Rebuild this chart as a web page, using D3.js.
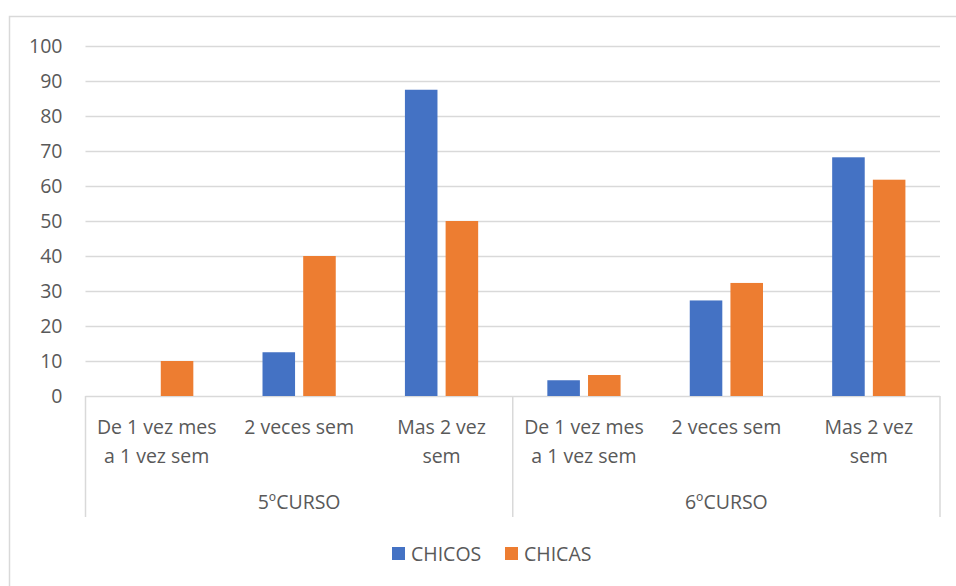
<!DOCTYPE html>
<html>
<head>
<meta charset="utf-8">
<script src="https://cdn.jsdelivr.net/npm/d3@7"></script>
<style>
  body { margin: 0; background: #fff; }
  text { font-family: "Open Sans", "Liberation Sans", sans-serif; fill: #595959; }
</style>
</head>
<body>
<div id="chart"></div>
<script>
// Datos
// =====
var cursos = ["5ºCURSO", "6ºCURSO"];
var frecuencias = [["De 1 vez mes", "a 1 vez sem"], ["2 veces sem"], ["Mas 2 vez", "sem"]];
var series = ["CHICOS", "CHICAS"];
var colores = ["#4472C4", "#ED7D31"];
var chicos = [0, 12.5, 87.5, 4.5, 27.3, 68.2];
var chicas = [10, 40, 50, 6, 32.3, 61.8];
var yTicks = [0, 10, 20, 30, 40, 50, 60, 70, 80, 90, 100];

// Dimensiones
// ===========
var W = 956, H = 586;
var fs = "19.5px";
var margin = { top: 46, right: 16, bottom: 190, left: 85.5 },
  width = 940 - margin.left,
  height = 396 - margin.top;

var svg = d3.select("#chart").append("svg")
  .attr("width", W).attr("height", H);

// borde del grafico
svg.append("path")
  .attr("d", "M9.5," + H + "V16.5H" + W)
  .attr("fill", "none").attr("stroke", "#d9d9d9").attr("stroke-width", 1.5);

var g = svg.append("g")
  .attr("transform", "translate(" + margin.left + "," + margin.top + ")");

// categorias: curso x frecuencia
var cats = [];
cursos.forEach(function(c, i) {
  frecuencias.forEach(function(f, j) {
    cats.push({ key: i + "-" + j, curso: c, label: f, chicos: chicos[i * 3 + j], chicas: chicas[i * 3 + j] });
  });
});

// Eje Y
// =====
var y = d3.scaleLinear().domain([0, 100]).range([height, 0]);

g.append("g")
  .call(d3.axisLeft(y).tickValues(yTicks).tickSize(-width).tickPadding(23))
  .call(function(a) {
    a.select(".domain").remove();
    a.selectAll("line").attr("stroke", "#d9d9d9").attr("stroke-width", 1.5);
    a.selectAll("text").style("font-size", fs).attr("fill", "#595959");
  });

// Eje X
// =====
var x0 = d3.scaleBand().domain(cats.map(function(d) { return d.key; })).range([0, width]);
var x1 = d3.scaleBand().domain(series).range([0, x0.bandwidth()]).paddingInner(0.2).paddingOuter(0.85);

var grupos = g.selectAll(".cat").data(cats).enter().append("g")
  .attr("transform", function(d) { return "translate(" + x0(d.key) + ",0)"; });

grupos.selectAll("rect")
  .data(function(d) { return [{ s: "CHICOS", v: d.chicos }, { s: "CHICAS", v: d.chicas }]; })
  .enter().append("rect")
  .attr("x", function(d) { return x1(d.s); })
  .attr("width", x1.bandwidth())
  .attr("y", function(d) { return y(d.v); })
  .attr("height", function(d) { return height - y(d.v); })
  .attr("fill", function(d) { return colores[series.indexOf(d.s)]; });

// etiquetas de frecuencia
grupos.append("text")
  .attr("text-anchor", "middle")
  .attr("x", x0.bandwidth() / 2)
  .attr("y", height + 38)
  .style("font-size", fs)
  .selectAll("tspan")
  .data(function(d) { return d.label; })
  .enter().append("tspan")
  .attr("x", x0.bandwidth() / 2)
  .attr("dy", function(d, i) { return i === 0 ? 0 : 29; })
  .text(function(d) { return d; });

// separadores de cursos
var sep = [0, 3, 6].map(function(i) { return i * x0.bandwidth(); });
g.selectAll(".sep").data(sep).enter().append("line")
  .attr("x1", function(d) { return d; }).attr("x2", function(d) { return d; })
  .attr("y1", height).attr("y2", height + 121)
  .attr("stroke", "#d9d9d9").attr("stroke-width", 1.5);

// etiquetas de curso
g.selectAll(".curso").data(cursos).enter().append("text")
  .attr("text-anchor", "middle")
  .attr("x", function(d, i) { return (i * 3 + 1.5) * x0.bandwidth(); })
  .attr("y", height + 113)
  .style("font-size", fs)
  .text(function(d) { return d; });

// Leyenda
// =======
var leg = svg.append("g");
var legX = [392, 505];
series.forEach(function(s, i) {
  leg.append("rect").attr("x", legX[i]).attr("y", 547).attr("width", 13).attr("height", 13).attr("fill", colores[i]);
  leg.append("text").attr("x", legX[i] + 19).attr("y", 561).style("font-size", fs).text(s);
});
</script>
</body>
</html>
